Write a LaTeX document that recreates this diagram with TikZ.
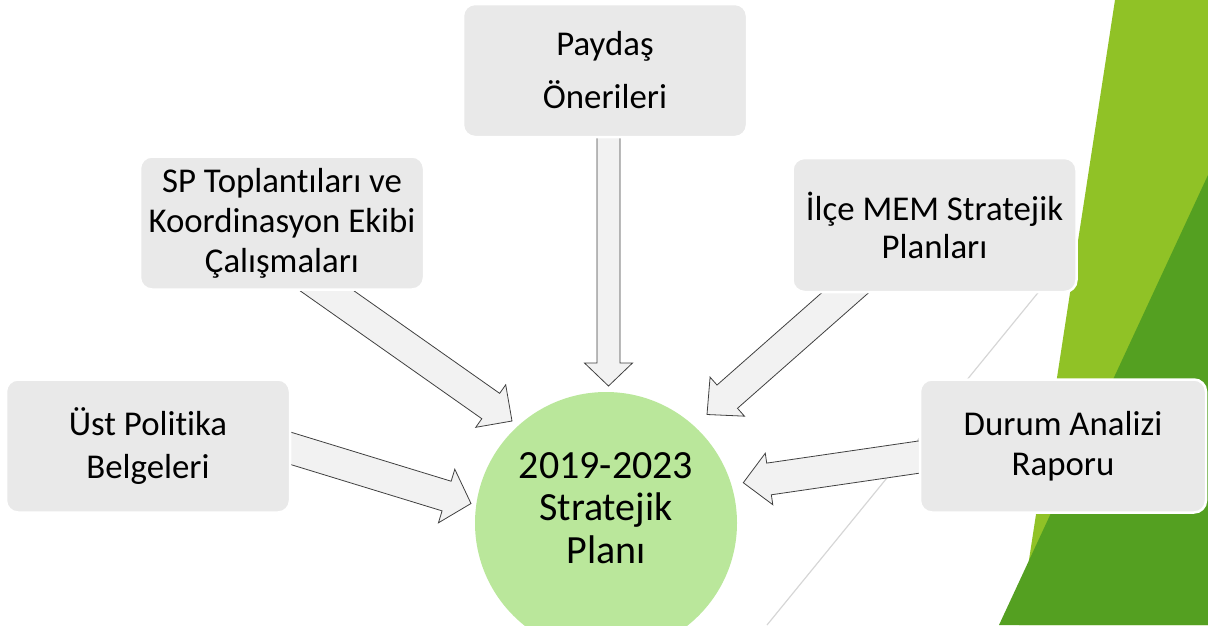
\documentclass[tikz,border=0pt]{standalone}
\usepackage{fontspec}
\setmainfont{Carlito}[Ligatures=NoCommon]
\usetikzlibrary{calc}
\definecolor{lgreen}{RGB}{144,194,38}
\definecolor{dgreen}{RGB}{84,160,33}
\definecolor{boxgray}{RGB}{233,233,233}
\definecolor{arrfill}{RGB}{242,242,242}
\definecolor{arrdraw}{RGB}{64,64,64}
\definecolor{circgreen}{RGB}{186,231,155}
\definecolor{decoline}{RGB}{214,214,214}
\newcommand\blockarr[5]{%
  \path ($(#2)!#5!(#1)$) coordinate (hb);
  \draw[barrow] ($(#1)!#3!90:(#2)$) -- ($(hb)!#3!90:(#2)$) -- ($(hb)!#4!90:(#2)$) -- (#2)
    -- ($(hb)!#4!-90:(#2)$) -- ($(hb)!#3!-90:(#2)$) -- ($(#1)!#3!-90:(#2)$) -- cycle;}
\begin{document}
\begin{tikzpicture}[x=1pt,y=-1pt,
  barrow/.style={fill=arrfill,draw=arrdraw,line width=0.8pt,line join=miter},
  infobox/.style={rectangle,rounded corners=12pt,fill=boxgray,draw=white,line width=2.5pt,
    minimum width=284pt,minimum height=133pt,inner sep=0pt,align=center,
    font=\fontsize{34.8}{40}\selectfont},
  circtext/.style={align=center,font=\fontsize{40}{42.5}\selectfont}]
\useasboundingbox (0,0) rectangle (1208,625);
% background decoration
\fill[lgreen] (1115,0) -- (1208,0) -- (1208,625) -- (1019,625) -- cycle;
\fill[dgreen] (1208,175) -- (1208,625) -- (999,625) -- cycle;
\coordinate (l1) at (767,625);
\coordinate (l2) at (1050,278);
\draw[decoline,line width=1.2pt] (l1) -- (l2);
% arrow end points
\coordinate (t1) at (608.5,120);  \coordinate (p1) at (608.5,386);
\coordinate (t2) at (306,276);    \coordinate (p2) at (512,421);
\coordinate (t3) at (871,270);    \coordinate (p3) at (707,414.5);
\coordinate (t4) at (270,442);    \coordinate (p4) at (471,503.5);
\coordinate (t5) at (940,454);    \coordinate (p5) at (743.3,482.7);
\blockarr{t1}{p1}{11.5pt}{24pt}{23pt}
\blockarr{t2}{p2}{15.5pt}{26pt}{26pt}
\blockarr{t3}{p3}{15.5pt}{26pt}{27pt}
\blockarr{t4}{p4}{15.5pt}{28pt}{25.5pt}
\blockarr{t5}{p5}{16pt}{26pt}{26pt}
% boxes
\node[infobox] (paydas) at (605,70.5) {Paydaş\\[13pt]Önerileri};
\node[infobox] (sp) at (282,223) {SP Toplantıları ve\\Koordinasyon Ekibi\\Çalışmaları};
\node[infobox,minimum height=134pt,font=\fontsize{34.8}{38}\selectfont] (ilce) at (934.5,225) {İlçe MEM Stratejik\\Planları};
\node[infobox,font=\fontsize{34.8}{43}\selectfont] (ust) at (148,446) {Üst Politika\\Belgeleri};
\node[infobox,minimum width=286pt] (durum) at (1063,446) {Durum Analizi\\Raporu};
% centre
\node[circle,fill=circgreen,minimum size=262pt,inner sep=0pt] (plan) at (606,523) {};
\node[circtext] (plantext) at (606,508) {2019-2023\\Stratejik\\Planı};
\end{tikzpicture}
\end{document}
